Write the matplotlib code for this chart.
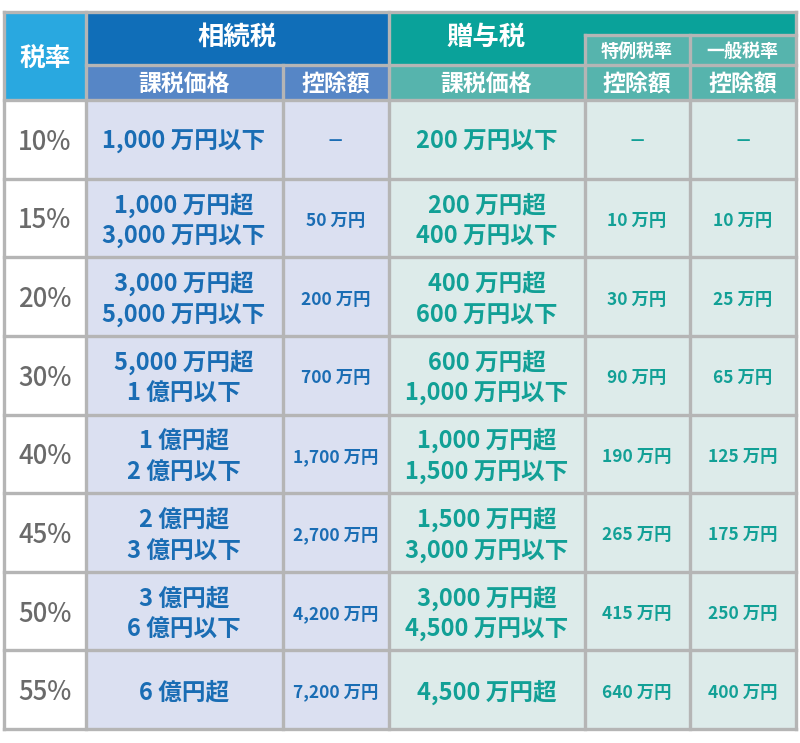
import matplotlib.pyplot as plt
from matplotlib.patches import Rectangle

plt.rcParams['font.family'] = ['Noto Sans CJK JP', 'DejaVu Sans']

# table content
rates = ["10%", "15%", "20%", "30%", "40%", "45%", "50%", "55%"]
inh_price = [
    ["1,000 万円以下"],
    ["1,000 万円超", "3,000 万円以下"],
    ["3,000 万円超", "5,000 万円以下"],
    ["5,000 万円超", "1 億円以下"],
    ["1 億円超", "2 億円以下"],
    ["2 億円超", "3 億円以下"],
    ["3 億円超", "6 億円以下"],
    ["6 億円超"],
]
inh_deduct = ["－", "50 万円", "200 万円", "700 万円", "1,700 万円",
              "2,700 万円", "4,200 万円", "7,200 万円"]
gift_price = [
    ["200 万円以下"],
    ["200 万円超", "400 万円以下"],
    ["400 万円超", "600 万円以下"],
    ["600 万円超", "1,000 万円以下"],
    ["1,000 万円超", "1,500 万円以下"],
    ["1,500 万円超", "3,000 万円以下"],
    ["3,000 万円超", "4,500 万円以下"],
    ["4,500 万円超"],
]
gift_special = ["－", "10 万円", "30 万円", "90 万円", "190 万円",
                "265 万円", "415 万円", "640 万円"]
gift_general = ["－", "10 万円", "25 万円", "65 万円", "125 万円",
                "175 万円", "250 万円", "400 万円"]

# layout (pixels)
xs = [4, 85.5, 282.5, 388.5, 584.5, 689.5, 796]
y_top, y_mid, y_sub, y_hdr = 12, 64.5, 35, 100
row_h = (729 - y_hdr) / len(rates)
dy = 3  # CJK glyphs sit a little high with va=center

c_rate_hdr = "#29a8e0"
c_inh_hdr = "#106eb8"
c_inh_sub = "#5686c6"
c_inh_cell = "#dbe0f1"
c_gift_hdr = "#0aa29a"
c_gift_sub = "#56b4ad"
c_gift_cell = "#ddebea"
c_inh_txt = "#1a6db4"
c_gift_txt = "#12a096"
c_rate_txt = "#6a6a6a"
c_line = "#b5b5b5"

fig = plt.figure(figsize=(8, 7.43), dpi=100)
ax = fig.add_axes([0, 0, 1, 1])
ax.set_xlim(0, 800)
ax.set_ylim(743, 0)
ax.axis("off")


def box(x0, y0, x1, y1, color):
    ax.add_patch(Rectangle((x0, y0), x1 - x0, y1 - y0, facecolor=color, edgecolor="none"))


# header backgrounds
box(xs[0], y_top, xs[1], y_hdr, c_rate_hdr)
box(xs[1], y_top, xs[3], y_mid, c_inh_hdr)
box(xs[1], y_mid, xs[3], y_hdr, c_inh_sub)
box(xs[3], y_top, xs[6], y_mid, c_gift_hdr)
box(xs[4], y_sub, xs[6], y_mid, c_gift_sub)
box(xs[3], y_mid, xs[6], y_hdr, c_gift_sub)

# data backgrounds
box(xs[0], y_hdr, xs[1], 729, "white")
box(xs[1], y_hdr, xs[3], 729, c_inh_cell)
box(xs[3], y_hdr, xs[6], 729, c_gift_cell)

hw = dict(color="white", ha="center", va="center", fontweight="bold")
ax.text((xs[0] + xs[1]) / 2, 55 + dy, "税率", fontsize=18.5, **hw)
ax.text((xs[1] + xs[3]) / 2, 34 + dy, "相続税", fontsize=19, **hw)
ax.text((xs[3] + xs[4]) / 2, 34 + dy, "贈与税", fontsize=19, **hw)
ax.text((xs[4] + xs[5]) / 2, 48 + dy, "特例税率", fontsize=13, **hw)
ax.text((xs[5] + xs[6]) / 2, 48 + dy, "一般税率", fontsize=13, **hw)
for j, s in enumerate(["課税価格", "控除額", "課税価格", "控除額", "控除額"]):
    ax.text((xs[j + 1] + xs[j + 2]) / 2, 81 + dy, s, fontsize=16.5, **hw)


def lines(cx, cy, items, color, size):
    gap = 32
    start = cy - gap * (len(items) - 1) / 2
    for k, s in enumerate(items):
        ax.text(cx, start + k * gap + dy, s, color=color, fontsize=size,
                ha="center", va="center", fontweight="bold")


for i, r in enumerate(rates):
    cy = y_hdr + row_h * (i + 0.5)
    ax.text((xs[0] + xs[1]) / 2, cy + dy, r, color=c_rate_txt, fontsize=18.5,
            ha="center", va="center", fontweight="medium")
    lines((xs[1] + xs[2]) / 2, cy, inh_price[i], c_inh_txt, 17)
    lines((xs[2] + xs[3]) / 2, cy, [inh_deduct[i]], c_inh_txt, 12.5)
    lines((xs[3] + xs[4]) / 2, cy, gift_price[i], c_gift_txt, 17)
    lines((xs[4] + xs[5]) / 2, cy, [gift_special[i]], c_gift_txt, 12.5)
    lines((xs[5] + xs[6]) / 2, cy, [gift_general[i]], c_gift_txt, 12.5)

# grid lines
lw = 2.4
for j in range(len(rates) + 1):
    y = y_hdr + row_h * j
    ax.plot([xs[0], xs[6]], [y, y], color=c_line, lw=lw, solid_capstyle="projecting")
ax.plot([xs[0], xs[6]], [y_top, y_top], color=c_line, lw=lw, solid_capstyle="projecting")
ax.plot([xs[1], xs[6]], [y_mid, y_mid], color=c_line, lw=lw)
ax.plot([xs[4], xs[6]], [y_sub, y_sub], color=c_line, lw=lw)
for x, y0 in zip(xs, [y_top, y_top, y_mid, y_top, y_sub, y_sub, y_top]):
    ax.plot([x, x], [y0, 729], color=c_line, lw=lw)

fig.savefig("out.png", dpi=100)
